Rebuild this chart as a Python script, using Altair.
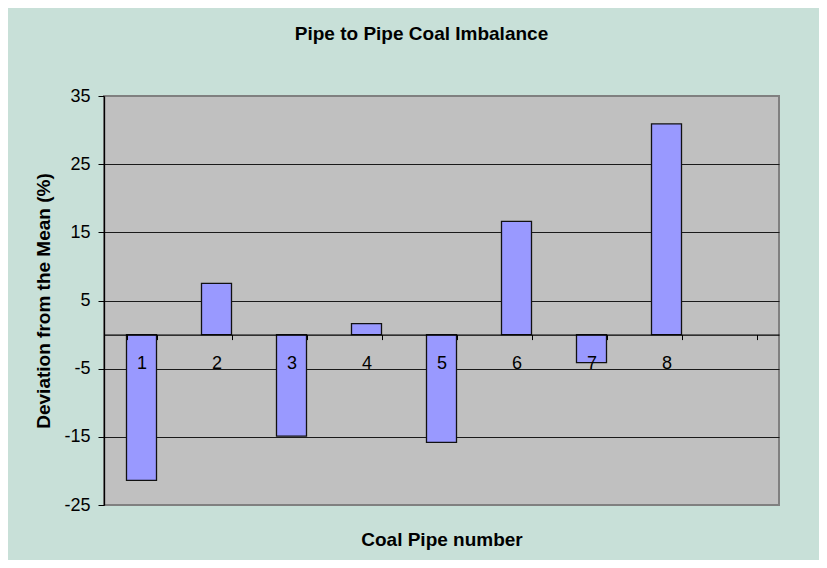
import altair as alt
import pandas as pd

# Data
pipes = ["1", "2", "3", "4", "5", "6", "7", "8"]
deviation = [-21.4, 7.5, -14.9, 1.6, -15.8, 16.6, -4.1, 30.9]
slots = pipes + [" "]          # Excel category axis has one empty slot at the end
y_ticks = [-25, -15, -5, 5, 15, 25, 35]

df = pd.DataFrame({"pipe": pipes, "dev": deviation})

FONT = "Liberation Sans"

bars = alt.Chart(df).mark_bar(
    color="#9999ff", stroke="#111111", strokeWidth=1.3
).encode(
    x=alt.X(
        "pipe:N",
        sort=slots,
        scale=alt.Scale(domain=slots, paddingInner=0.6, paddingOuter=0.3),
        axis=alt.Axis(
            title="Coal Pipe number",
            labelAngle=0,
            tickBand="extent",
            offset={"expr": "scale('y', 0) - height"},
            zindex=1,
            domainColor="#000000",
            domainWidth=1.3,
            tickColor="#000000",
            tickSize=5,
            tickWidth=1,
            labelFont=FONT,
            labelFontSize=18,
            labelColor="#000000",
            labelPadding=15,
            titleFont=FONT,
            titleFontSize=19,
            titleFontWeight="bold",
            titleColor="#000000",
            titleBaseline="alphabetic",
            titleY=211,
            grid=False,
        ),
    ),
    y=alt.Y(
        "dev:Q",
        scale=alt.Scale(domain=[-25, 35], nice=False, zero=False),
        axis=alt.Axis(
            values=y_ticks,
            labelExpr="'' + datum.value",
            title="Deviation from the Mean (%)",
            grid=True,
            gridColor=alt.condition(
                "datum.value == 35 || datum.value == -25",
                alt.value("#808080"),
                alt.value("#1a1a1a"),
            ),
            gridWidth=1,
            domainColor="#000000",
            domainWidth=1.3,
            tickColor="#000000",
            tickSize=6,
            labelFont=FONT,
            labelFontSize=18,
            labelColor="#000000",
            labelPadding=8,
            titleFont=FONT,
            titleFontSize=19,
            titleFontWeight="bold",
            titleColor="#000000",
            titlePadding=10,
        ),
    ),
)

chart = bars.properties(
    width=675,
    height=409,
    autosize=alt.AutoSizeParams(type="none"),
    padding={"left": 96, "top": 88, "right": 40, "bottom": 55},
    title=alt.Title(
        "Pipe to Pipe Coal Imbalance",
        font=FONT,
        fontSize=19,
        fontWeight="bold",
        color="#000000",
        anchor="middle",
        frame="group",
        baseline="alphabetic",
        offset=28,
        dx=-20,
    ),
).configure(
    background="#c8e0d8"
).configure_view(
    fill="#c0c0c0", stroke="#808080", strokeWidth=2
)

chart.save("out.html", embed_options={"renderer": "svg", "actions": False})
